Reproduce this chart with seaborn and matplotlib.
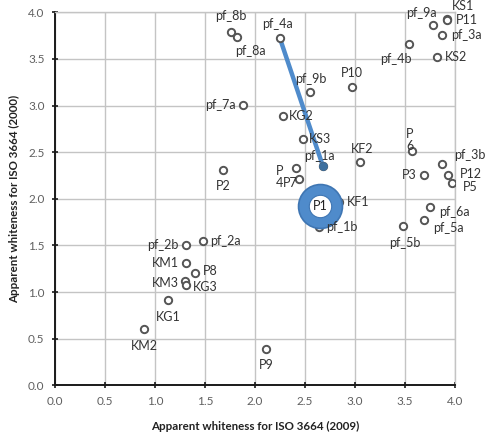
import matplotlib
matplotlib.use("Agg")
import matplotlib.pyplot as plt
import seaborn as sns
import pandas as pd

# ---- data ----
names = ['pf_8b', 'pf_8a', 'pf_7a', 'P2', 'pf_4a', 'pf_9b', 'P10', 'KG2', 'KS3', 'KF2',
         'P4', 'P7', 'pf_1a', 'KF1', 'pf_1b', 'P6', 'P3', 'pf_3b', 'P12', 'P5',
         'pf_6a', 'pf_5a', 'pf_5b', 'pf_9a', 'KS1', 'P11', 'pf_3a', 'pf_4b', 'KS2',
         'pf_2b', 'pf_2a', 'KM1', 'P8', 'KM3', 'KG3', 'KG1', 'KM2', 'P9']
iso2009 = [1.76, 1.82, 1.88, 1.68, 2.25, 2.55, 2.97, 2.28, 2.48, 3.05,
           2.41, 2.44, 2.68, 2.84, 2.64, 3.57, 3.69, 3.87, 3.93, 3.97,
           3.75, 3.69, 3.48, 3.78, 3.92, 3.92, 3.87, 3.54, 3.82,
           1.31, 1.48, 1.31, 1.40, 1.30, 1.31, 1.13, 0.89, 2.11]
iso2000 = [3.79, 3.73, 3.01, 2.31, 3.72, 3.14, 3.20, 2.89, 2.64, 2.39,
           2.33, 2.21, 2.35, 1.97, 1.70, 2.51, 2.25, 2.37, 2.26, 2.17,
           1.91, 1.77, 1.71, 3.86, 3.93, 3.92, 3.76, 3.66, 3.52,
           1.50, 1.55, 1.31, 1.20, 1.12, 1.08, 0.92, 0.61, 0.39]
highlight_name = 'P1'
highlight_x = [2.65]
highlight_y = [1.92]
link_a = ['pf_4a', 'pf_1a']
link_b = ['P1', 'pf_1b']
ticks = [0.0, 0.5, 1.0, 1.5, 2.0, 2.5, 3.0, 3.5, 4.0]
tick_labels = ['0.0', '0.5', '1.0', '1.5', '2.0', '2.5', '3.0', '3.5', '4.0']
xlabel = 'Apparent whiteness for ISO 3664 (2009)'
ylabel = 'Apparent whiteness for ISO 3664 (2000)'

# label display text and placement (offset in pixels, ha, va)
label_text = {'P4': 'P\n4', 'P6': 'P\n6'}
label_pos = {
    'pf_8b': (0, 16, 'center', 'center'), 'pf_8a': (13, -14, 'center', 'center'),
    'pf_7a': (-7, 0, 'right', 'center'), 'P2': (0, -16, 'center', 'center'),
    'pf_4a': (-2, 14, 'center', 'center'), 'pf_9b': (1, 13, 'center', 'center'),
    'P10': (0, 14, 'center', 'center'), 'KG2': (6, 0, 'left', 'center'),
    'KS3': (6, 0, 'left', 'center'), 'KF2': (2, 13, 'center', 'center'),
    'P4': (-13, -9, 'right', 'center'), 'P7': (-1, -4, 'right', 'center'),
    'pf_1a': (-3, 10, 'center', 'center'), 'KF1': (8, 0, 'left', 'center'),
    'pf_1b': (7, 0, 'left', 'center'), 'P6': (-2, 11, 'center', 'center'),
    'P3': (-7, 0, 'right', 'center'), 'pf_3b': (12, 9, 'left', 'center'),
    'P12': (12, 1, 'left', 'center'), 'P5': (11, -4, 'left', 'center'),
    'pf_6a': (9, -5, 'left', 'center'), 'pf_5a': (9, -8, 'left', 'center'),
    'pf_5b': (2, -17, 'center', 'center'), 'pf_9a': (4, 12, 'right', 'center'),
    'KS1': (5, 13, 'left', 'center'), 'P11': (9, 0, 'left', 'center'),
    'pf_3a': (9, 0, 'left', 'center'), 'pf_4b': (3, -15, 'right', 'center'),
    'KS2': (8, 0, 'left', 'center'), 'pf_2b': (-7, 0, 'right', 'center'),
    'pf_2a': (7, 0, 'left', 'center'), 'KM1': (-7, 0, 'right', 'center'),
    'P8': (8, 2, 'left', 'center'), 'KM3': (-6, -2, 'right', 'center'),
    'KG3': (7, -2, 'left', 'center'), 'KG1': (0, -17, 'center', 'center'),
    'KM2': (0, -17, 'center', 'center'), 'P9': (0, -16, 'center', 'center'),
}

df = pd.DataFrame({'name': names, 'x': iso2009, 'y': iso2000})
hl = pd.DataFrame({'name': [highlight_name], 'x': highlight_x, 'y': highlight_y})

sns.set_theme(style='white')
plt.rcParams['font.family'] = ['Lato', 'DejaVu Sans']

fig = plt.figure(figsize=(4.87, 4.36), dpi=100)
ax = fig.add_axes([0.113, 0.116, 0.821, 0.856])

grid_c = '#c4c4c4'
ax.set_xlim(0, 4)
ax.set_ylim(0, 4)
ax.set_xticks(ticks)
ax.set_yticks(ticks)
ax.set_xticklabels(tick_labels)
ax.set_yticklabels(tick_labels)
ax.grid(True, color=grid_c, linewidth=1.0)
ax.set_axisbelow(True)
for s in ['top', 'right']:
    ax.spines[s].set_color(grid_c)
    ax.spines[s].set_linewidth(1.0)
for s in ['left', 'bottom']:
    ax.spines[s].set_color('#1a1a1a')
    ax.spines[s].set_linewidth(1.4)
ax.tick_params(axis='both', direction='inout', length=5, width=1.2, color='#1a1a1a',
               labelsize=8.5, labelcolor='#606060', pad=5,
               bottom=True, left=True)

# connecting lines
all_df = pd.concat([df, hl], ignore_index=True).set_index('name')
blue = '#4f8bcb'
for link in (link_a, link_b):
    seg = all_df.loc[link].reset_index()
    ax.plot(seg['x'], seg['y'], color=blue, linewidth=3.2, solid_capstyle='round', zorder=2)

# points
sns.scatterplot(data=df, x='x', y='y', ax=ax, marker='o', s=28, facecolor='white',
                edgecolor='#555555', linewidth=1.4, zorder=3, legend=False)
# end of the link covering pf_1a
end_pt = all_df.loc[[link_a[-1]]].reset_index()
sns.scatterplot(data=end_pt, x='x', y='y', ax=ax, marker='o', s=28, color='#3c6f9f',
                edgecolor='#3c6f9f', linewidth=1.0, zorder=3.5, legend=False)

# highlight bubble
sns.scatterplot(data=hl, x='x', y='y', ax=ax, marker='o', s=1000, color=blue,
                edgecolor='#3f76b3', linewidth=1.2, zorder=4, legend=False)
sns.scatterplot(data=hl, x='x', y='y', ax=ax, marker='o', s=260, color='white',
                edgecolor='#3f76b3', linewidth=0.8, zorder=5, legend=False)
ax.text(hl['x'][0], hl['y'][0], highlight_name, ha='center', va='center',
        fontsize=9, color='#222222', zorder=6)

for n, xv, yv in zip(df['name'], df['x'], df['y']):
    dx, dy, ha, va = label_pos[n]
    ax.annotate(label_text.get(n, n), (xv, yv), xytext=(dx, dy), textcoords='offset pixels',
                ha=ha, va=va, fontsize=9, color='#333333', zorder=6, linespacing=1.0)

ax.set_xlabel(xlabel, fontsize=8.3, fontweight='bold', color='#222222', labelpad=10)
ax.set_ylabel(ylabel, fontsize=8.3, fontweight='bold', color='#222222', labelpad=6)

fig.savefig('out.png', dpi=100)
